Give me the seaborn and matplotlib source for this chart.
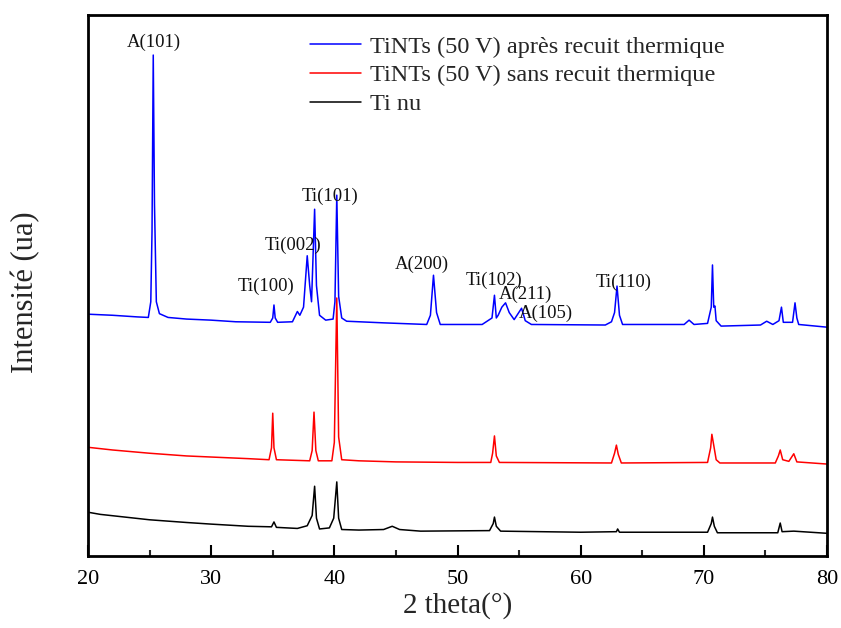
import numpy as np
import pandas as pd
import matplotlib
matplotlib.use("Agg")
import matplotlib.pyplot as plt
import seaborn as sns
from matplotlib.ticker import MultipleLocator

# Diffractograms (2theta in degrees, intensity in arbitrary units, curves stacked)
x_recuit = [20, 22, 24, 24.9, 25.1, 25.2, 25.3, 25.4, 25.55, 25.8, 26.5, 28, 30, 32,
            34.8, 35.0, 35.1, 35.2, 35.4, 36.6, 37.0, 37.2, 37.5, 37.8, 38.0, 38.15,
            38.4, 38.55, 38.8, 39.3, 39.9, 40.05, 40.2, 40.35, 40.6, 41, 44, 47.5,
            47.8, 48.05, 48.3, 48.6, 52, 52.8, 53.0, 53.15, 53.3, 53.6, 53.9, 54.2,
            54.6, 55.2, 55.5, 56, 62, 62.5, 62.75, 62.95, 63.15, 63.4, 68.4, 68.8,
            69.2, 70.3, 70.6, 70.7, 70.8, 70.9, 71.0, 71.4, 74.6, 75.1, 75.6, 76.1,
            76.3, 76.45, 77.2, 77.4, 77.55, 77.7, 80]
y_recuit = [447, 445, 442, 441, 470, 600, 926, 650, 470, 448, 441, 438, 436, 433,
            432, 440, 464, 440, 432, 433, 452, 445, 460, 555, 500, 470,
            641, 500, 445, 436, 438, 470, 667, 480, 440, 434, 431, 428,
            445, 519, 450, 428, 428, 440, 482, 440, 445, 460, 468, 450,
            437, 458, 435, 428, 427, 433, 450, 499, 445, 428, 428, 436,
            428, 430, 460, 538, 460, 462, 435, 425, 427, 434, 428, 435,
            460, 432, 432, 468, 440, 428, 423]

x_sans = [20, 22, 25, 28, 30, 33, 34.7, 34.9, 35.0, 35.1, 35.3, 38.0, 38.2, 38.35,
          38.5, 38.7, 39.8, 40.0, 40.2, 40.35, 40.6, 42, 45, 50, 52.7, 52.85, 53.0,
          53.15, 53.4, 62.5, 62.75, 62.9, 63.05, 63.3, 70.3, 70.55, 70.65, 70.8,
          71.0, 71.3, 75.8, 76.05, 76.2, 76.4, 76.9, 77.3, 77.55, 80]
y_sans = [201, 196, 190, 185, 183, 180, 178, 200, 264, 200, 178, 176, 195, 266,
          195, 176, 176, 210, 477, 220, 178, 176, 174, 173, 173, 190, 222,
          185, 173, 172, 190, 205, 188, 172, 173, 200, 225, 205,
          178, 172, 172, 185, 196, 178, 175, 189, 174, 170]

x_ti = [20, 21, 23, 25, 28, 30, 33, 34.9, 35.1, 35.3, 37, 37.8, 38.2, 38.4, 38.55,
        38.8, 39.6, 39.95, 40.2, 40.35, 40.6, 42, 44, 44.7, 45.3, 47, 52.6, 52.9,
        53.0, 53.15, 53.5, 60, 62.9, 63.0, 63.15, 70.3, 70.6, 70.7, 70.85, 71.1,
        76.0, 76.2, 76.35, 77.3, 80]
y_ti = [81, 77, 72, 67, 62, 59, 55, 54, 63, 53, 51, 56, 75, 129, 70,
        50, 52, 70, 137, 70, 49, 48, 49, 55, 49, 46, 47, 60,
        72, 55, 46, 44, 45, 50, 44, 44, 60, 72, 55, 43,
        43, 61, 45, 46, 42]

series_names = ["TiNTs (50 V) après recuit thermique",
                "TiNTs (50 V) sans recuit thermique",
                "Ti nu"]
series_colors = ["#0000ff", "#ff0000", "#000000"]

# Reflection labels: text, 2theta position, height
peak_labels = ["A(101)", "Ti(100)", "Ti(002)", "Ti(101)", "A(200)",
               "Ti(102)", "A(211)", "A(105)", "Ti(110)"]
label_x = [25.36, 34.45, 36.64, 39.64, 47.1, 53.0, 55.5, 57.2, 63.5]
label_y = [950, 499, 575, 665, 540, 510, 484, 448, 506]

frames = []
for name, xs, ys in zip(series_names, [x_recuit, x_sans, x_ti],
                        [y_recuit, y_sans, y_ti]):
    frames.append(pd.DataFrame({"theta": xs, "intensite": ys, "serie": name}))
df = pd.concat(frames, ignore_index=True)

sns.set_theme(style="white")
plt.rcParams["font.family"] = ["Liberation Serif", "DejaVu Serif"]

fig = plt.figure(figsize=(8.41, 6.28), dpi=100)
ax = fig.add_axes([0.1046, 0.1146, 0.8788, 0.8615])

sns.lineplot(data=df, x="theta", y="intensite", hue="serie",
             hue_order=series_names, palette=series_colors,
             estimator=None, sort=False, linewidth=1.1, ax=ax)

for txt, lx, ly in zip(peak_labels, label_x, label_y):
    ax.text(lx, ly, txt, ha="center", va="center", fontsize=13.5, color="#111111")

ax.set_xlim(20, 80)
ax.set_ylim(0, 1000)
ax.xaxis.set_major_locator(MultipleLocator(10))
ax.xaxis.set_minor_locator(MultipleLocator(5))
ax.set_yticks([])
ax.tick_params(axis="x", which="major", direction="in", length=8, width=1.5,
               bottom=True, top=False, labelsize=16, pad=10, colors="black")
ax.tick_params(axis="x", which="minor", direction="in", length=4, width=1.5,
               bottom=True, top=False)
for sp in ax.spines.values():
    sp.set_visible(True)
    sp.set_linewidth(2)
    sp.set_color("black")

ax.set_xlabel("2 theta(°)", fontsize=21, labelpad=2)
ax.set_ylabel("Intensité (ua)", fontsize=22)
ax.yaxis.set_label_coords(-0.064, 0.488)

handles, labels = ax.get_legend_handles_labels()
leg = ax.legend(handles, labels, loc="upper left", bbox_to_anchor=(0.3004, 0.962),
                frameon=False, fontsize=17.5, handlelength=2.1, handletextpad=0.35,
                labelspacing=0.28, borderpad=0, borderaxespad=0)
for h in leg.get_lines():
    h.set_linewidth(1.1)

fig.savefig("out.png", dpi=100)
